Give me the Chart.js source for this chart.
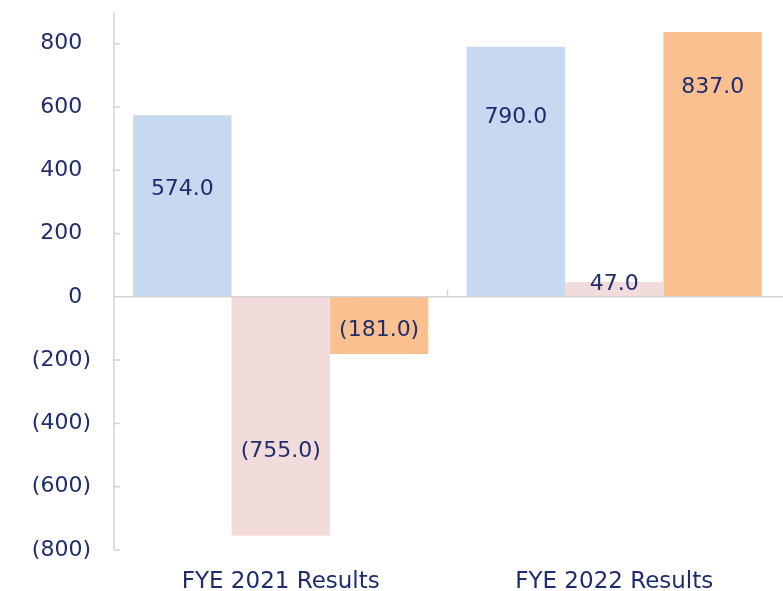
<!DOCTYPE html>
<html>
<head>
<meta charset="utf-8">
<script src="https://cdn.jsdelivr.net/npm/chart.js@4"></script>
<style>
  html, body { margin: 0; padding: 0; background: #fff; }
  #wrap { width: 783px; height: 591px; position: relative; }
</style>
</head>
<body>
<div id="wrap"><canvas id="chart"></canvas></div>
<script>
// values
const categories = ['FYE 2021 Results', 'FYE 2022 Results'];
const seriesA = [574.0, 790.0];
const seriesB = [-755.0, 47.0];
const seriesC = [-181.0, 837.0];
const yTicks = [-800, -600, -400, -200, 0, 200, 400, 600, 800];

// where each label sits along its bar (0 = base, 1 = end)
const labelPos = [[0.59, 0.72], [0.645, 0.5], [0.58, 0.79]];

const TEXT = '#1f2d6e';
const AXIS = '#d4d4d4';
const FONT = '"DejaVu Sans", Verdana, sans-serif';

function fmt(v, digits) {
  const s = Math.abs(v).toFixed(digits);
  return v < 0 ? '(' + s + ')' : s;
}

const axesPlugin = {
  id: 'excelAxes',
  afterDatasetsDraw(chart) {
    const { ctx, chartArea, scales } = chart;
    const y = scales.y, x = scales.x;
    const y0 = y.getPixelForValue(0);
    ctx.save();
    ctx.strokeStyle = AXIS;
    ctx.lineWidth = 1.5;
    ctx.beginPath();
    // vertical axis
    ctx.moveTo(chartArea.left, chartArea.top);
    ctx.lineTo(chartArea.left, chartArea.bottom);
    yTicks.forEach(v => {
      const py = y.getPixelForValue(v);
      ctx.moveTo(chartArea.left, py);
      ctx.lineTo(chartArea.left + 6, py);
    });
    // zero line
    ctx.moveTo(chartArea.left, y0);
    ctx.lineTo(chartArea.right + 2, y0);
    // category divider tick
    for (let i = 1; i < categories.length; i++) {
      const px = (x.getPixelForValue(i - 1) + x.getPixelForValue(i)) / 2;
      ctx.moveTo(px, y0);
      ctx.lineTo(px, y0 - 7);
    }
    ctx.stroke();
    ctx.restore();
  }
};

const labelPlugin = {
  id: 'barLabels',
  afterDatasetsDraw(chart) {
    const { ctx } = chart;
    const y0 = chart.scales.y.getPixelForValue(0);
    ctx.save();
    ctx.font = '22px ' + FONT;
    ctx.fillStyle = TEXT;
    ctx.textAlign = 'center';
    ctx.textBaseline = 'middle';
    chart.data.datasets.forEach((ds, di) => {
      chart.getDatasetMeta(di).data.forEach((bar, i) => {
        const v = ds.data[i];
        const f = labelPos[di][i];
        let py = y0 + (bar.y - y0) * f;
        if (Math.abs(bar.y - y0) < 20) py = bar.y + 2;
        ctx.fillText(fmt(v, 1), bar.x, py);
      });
    });
    ctx.restore();
  }
};

new Chart(document.getElementById('chart'), {
  type: 'bar',
  data: {
    labels: categories,
    datasets: [
      { data: seriesA, backgroundColor: '#c6d9f1' },
      { data: seriesB, backgroundColor: '#f2dcdb' },
      { data: seriesC, backgroundColor: '#fac090' }
    ]
  },
  options: {
    animation: false,
    responsive: true,
    maintainAspectRatio: false,
    layout: { padding: { top: 12, right: 2, left: 0, bottom: 0 } },
    datasets: { bar: { categoryPercentage: 0.885, barPercentage: 1.0 } },
    scales: {
      x: {
        grid: { display: false, drawTicks: false },
        border: { display: false },
        ticks: { color: TEXT, font: { family: FONT, size: 23 }, padding: 18 },
        afterFit: s => { s.height = 41; s.paddingLeft = 0; s.paddingRight = 0; }
      },
      y: {
        min: -800,
        max: 900,
        grid: { display: false, drawTicks: false },
        border: { display: false },
        afterBuildTicks: s => { s.ticks = yTicks.map(v => ({ value: v })); },
        afterFit: s => { s.width = 114; s.paddingTop = 0; s.paddingBottom = 0; },
        ticks: {
          color: TEXT,
          font: { family: FONT, size: 22 },
          padding: 23,
          callback: v => v < 0 ? fmt(v, 0) : fmt(v, 0) + '\u2009\u2009'
        }
      }
    },
    plugins: {
      legend: { display: false },
      tooltip: { enabled: false }
    }
  },
  plugins: [axesPlugin, labelPlugin]
});
</script>
</body>
</html>
